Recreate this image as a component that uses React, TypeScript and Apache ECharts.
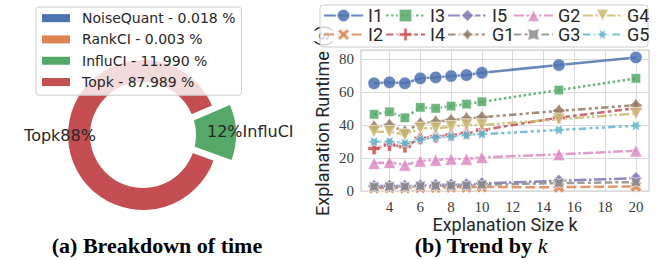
import { useEffect, useRef } from "react";
import * as echarts from "echarts";

// ---- Pie (a) data ----
const pieNames = ["NoiseQuant", "RankCI", "InfluCI", "Topk"];
const piePercents = [0.018, 0.003, 11.99, 87.989];
const pieColors = ["#4C72B0", "#DD8452", "#55A868", "#C44E52"];
const explodedSlice = "InfluCI";

// ---- Line (b) data ----
const kValues = [3, 4, 5, 6, 7, 8, 9, 10, 15, 20];
const xTicks = [4, 6, 8, 10, 12, 14, 16, 18, 20];
const yTicks = [0, 20, 40, 60, 80];
const seriesNames = ["I1", "I2", "I3", "I4", "I5", "G1", "G2", "G3", "G4", "G5"];
const I1 = [65.3, 65.9, 65.3, 68.3, 68.9, 69.7, 70.3, 71.7, 76.4, 81.0];
const I2 = [1.8, 1.9, 1.8, 2.0, 2.1, 2.2, 2.2, 2.4, 2.3, 2.8];
const I3 = [46.5, 48.0, 44.4, 50.7, 50.1, 51.5, 52.7, 54.1, 61.2, 68.3];
const I4 = [25.8, 27.9, 26.9, 31.9, 32.9, 33.9, 35.0, 37.0, 44.5, 50.2];
const I5 = [3.0, 3.1, 3.0, 3.4, 3.6, 3.8, 4.0, 4.6, 6.2, 7.8];
const G1 = [39.0, 40.0, 36.0, 41.0, 42.0, 43.0, 44.0, 44.7, 48.6, 52.0];
const G2 = [16.8, 17.4, 15.8, 18.2, 18.8, 19.4, 19.4, 20.4, 22.2, 24.4];
const G3 = [2.6, 2.7, 2.6, 3.0, 3.1, 3.3, 3.4, 3.8, 4.8, 5.4];
const G4 = [36.0, 36.0, 34.0, 38.0, 38.0, 39.0, 40.0, 40.0, 43.5, 47.0];
const G5 = [29.9, 29.9, 28.9, 31.3, 32.5, 32.9, 33.9, 34.5, 37.0, 39.6];
const seriesValues = [I1, I2, I3, I4, I5, G1, G2, G3, G4, G5];

// ---- styles ----
const lineColors = ["#4C72B0", "#DD8452", "#55A868", "#C44E52", "#8172B3", "#937860", "#DA8BC3", "#8C8C8C", "#CCB974", "#64B5CD"];
const LW = 2.5;
const dashUnits: (number[] | null)[] = [
  null,
  [4, 1.5],
  [1, 1],
  [3, 1.25, 1.5, 1.25],
  [5, 1, 1, 1],
  [3, 1.25, 1.25, 1.25, 1.25, 1.25],
  [4, 1, 4, 1, 1, 1],
  [3, 1.25, 3, 1.25, 1.25, 1.25],
  [4, 1, 1, 1, 1, 1],
  [3, 1.25, 1.25, 1.25, 1.25, 1.25, 1.25, 1.25],
];
const X_PATH = "path://M2 -4 L0 -2 L-2 -4 L-4 -2 L-2 0 L-4 2 L-2 4 L0 2 L2 4 L4 2 L2 0 L4 -2 Z";
const P_PATH = "path://M-1 -3 L-1 -1 L-3 -1 L-3 1 L-1 1 L-1 3 L1 3 L1 1 L3 1 L3 -1 L1 -1 L1 -3 Z";
const STAR4 = "path://M0 -100 L-40 -40 L-100 0 L-40 40 L0 100 L40 40 L100 0 L40 -40 Z";
const STAR4R = "path://M70.7 -70.7 L0 -50 L-70.7 -70.7 L-50 0 L-70.7 70.7 L0 50 L70.7 70.7 L50 0 Z";
const TRI_DOWN = "path://M-100 -100 L100 -100 L0 100 Z";
const STAR6 = "path://M100 0 L43.3 -25 L50 -86.6 L0 -50 L-50 -86.6 L-43.3 -25 L-100 0 L-43.3 25 L-50 86.6 L0 50 L50 86.6 L43.3 25 Z";
const symbols = ["circle", X_PATH, "rect", P_PATH, "diamond", STAR4, "triangle", STAR4R, TRI_DOWN, STAR6];
const symbolSizes: any[] = [12.5, 12, 9.5, 12.5, 13, 14, 12.5, 10.5, 12.5, [14, 12.1]];
const legendColumns = [["I1", "I2"], ["I3", "I4"], ["I5", "G1"], ["G2", "G3"], ["G4", "G5"]];
const legendColumnLeft = [323, 385, 447, 513, 582];

const TXT = "#262626";

export default function App() {
  const ref = useRef<HTMLDivElement>(null);
  useEffect(() => {
    if (!ref.current) return;
    const chart = echarts.init(ref.current, undefined, { renderer: "svg" });

    const lineSeries = seriesNames.map((name, i) => ({
      type: "line",
      name,
      data: kValues.map((k, j) => [k, seriesValues[i][j]]),
      symbol: symbols[i],
      symbolSize: symbolSizes[i],
      symbolKeepAspect: true,
      showAllSymbol: true,
      z: 2,
      lineStyle: {
        color: lineColors[i],
        width: LW,
        type: dashUnits[i] ? dashUnits[i]!.map((d) => d * LW) : "solid",
        opacity: 0.85,
        cap: "butt",
      },
      itemStyle: { color: lineColors[i], opacity: 0.85, borderColor: "#ffffff", borderWidth: 0.75 },
      emphasis: { disabled: true },
    }));

    const pieLabel = (name: string) => {
      const i = pieNames.indexOf(name);
      return `${Math.round(piePercents[i])}%`;
    };

    const option: any = {
      animation: false,
      legend: [
        {
          data: pieNames,
          orient: "vertical",
          left: 36,
          top: 7,
          padding: [4, 6, 6, 6],
          icon: "rect",
          itemWidth: 28,
          itemHeight: 8,
          itemGap: 7,
          backgroundColor: "rgba(255,255,255,0.8)",
          borderColor: "#cccccc",
          borderWidth: 1,
          borderRadius: 3,
          formatter: (name: string) => {
            const i = pieNames.indexOf(name);
            return `${name} - ${piePercents[i].toFixed(3)} %`;
          },
          textStyle: { fontFamily: "DejaVu Sans", fontSize: 14, lineHeight: 14.3, color: TXT, padding: [0, 0, 0, 7] },
          selectedMode: false,
        },
        ...legendColumns.map((col, c) => ({
          data: col,
          orient: "vertical",
          left: legendColumnLeft[c],
          top: 6.5,
          padding: 0,
          itemWidth: 39,
          itemHeight: 17,
          itemGap: 1,
          textStyle: { fontFamily: "Roboto", fontSize: 18, lineHeight: 17, color: TXT },
          selectedMode: false,
        })),
      ],
      grid: {
        left: 361,
        top: 50,
        width: 288,
        height: 141,
        show: true,
        borderColor: "#cccccc",
        borderWidth: 1.25,
        backgroundColor: "transparent",
      },
      xAxis: {
        type: "value",
        min: 2.15,
        max: 20.85,
        axisLine: { show: false },
        axisTick: { show: false, customValues: xTicks },
        axisLabel: { customValues: xTicks, fontFamily: "Liberation Serif", fontSize: 15, color: "#3a3a3a", margin: 8 },
        splitLine: { show: true, customValues: xTicks, lineStyle: { color: "#dadada", width: 1 } },
        name: "Explanation Size k",
        nameLocation: "middle",
        nameGap: 24,
        nameMoveOverlap: false,
        nameTextStyle: { fontFamily: "Roboto", fontSize: 18, color: TXT, verticalAlign: "top" },
      },
      yAxis: {
        type: "value",
        min: 0,
        max: 85.5,
        axisLine: { show: false },
        axisTick: { show: false, customValues: yTicks },
        axisLabel: { customValues: yTicks, fontFamily: "Liberation Serif", fontSize: 15, color: "#3a3a3a", margin: 7 },
        splitLine: { show: true, customValues: yTicks, lineStyle: { color: "#dadada", width: 1 } },
        name: "Explanation Runtime (s)",
        nameLocation: "middle",
        nameGap: 30,
        nameMoveOverlap: false,
        nameTextStyle: { fontFamily: "Roboto", fontSize: 18, color: TXT },
      },
      series: [
        {
          type: "pie",
          center: [143, 135],
          radius: [0, 75],
          startAngle: 340,
          clockwise: false,
          selectedMode: "single",
          selectedOffset: 18,
          avoidLabelOverlap: false,
          label: { show: false },
          labelLine: { show: false },
          emphasis: { disabled: true },
          z: 2,
          data: pieNames.map((name, i) => ({
            name,
            value: piePercents[i],
            selected: name === explodedSlice,
            itemStyle: { color: pieColors[i], borderWidth: 0 },
            select: { itemStyle: { color: pieColors[i], borderWidth: 0 } },
          })),
        },
        ...lineSeries,
      ],
      graphic: [
        { type: "circle", shape: { cx: 143, cy: 135, r: 53 }, style: { fill: "#ffffff" }, z: 3, silent: true },
        {
          type: "text",
          x: 60,
          y: 135,
          z: 6,
          style: { text: `Topk${pieLabel("Topk")}`, fontFamily: "DejaVu Sans", fontSize: 16, fill: TXT, align: "center", verticalAlign: "middle" },
        },
        {
          type: "text",
          x: 207,
          y: 131,
          z: 6,
          style: { text: `${pieLabel("InfluCI")}InfluCI`, fontFamily: "DejaVu Sans", fontSize: 16, fill: TXT, align: "left", verticalAlign: "middle" },
        },
        {
          type: "rect",
          shape: { x: 320, y: 5, width: 328, height: 42, r: 3 },
          style: { fill: "rgba(255,255,255,0.8)", stroke: "#cccccc", lineWidth: 1 },
          z: 3,
          silent: true,
        },
        {
          type: "text",
          x: 157,
          y: 245,
          z: 6,
          style: { text: "(a) Breakdown of time", fontFamily: "Liberation Serif", fontWeight: "bold", fontSize: 22, fill: "#000000", align: "center", verticalAlign: "middle" },
        },
        {
          type: "text",
          x: 481,
          y: 245,
          z: 6,
          style: {
            text: "(b) Trend by {i|k}",
            fontFamily: "Liberation Serif",
            fontWeight: "bold",
            fontSize: 22,
            fill: "#000000",
            align: "center",
            verticalAlign: "middle",
            rich: { i: { fontFamily: "Liberation Serif", fontStyle: "italic", fontWeight: "normal", fontSize: 22, fill: "#000000" } },
          },
        },
      ],
    };
    chart.setOption(option);
    return () => chart.dispose();
  }, []);
  return <div ref={ref} style={{ position: "absolute", left: 0, top: 0, width: 672, height: 260 }} />;
}
